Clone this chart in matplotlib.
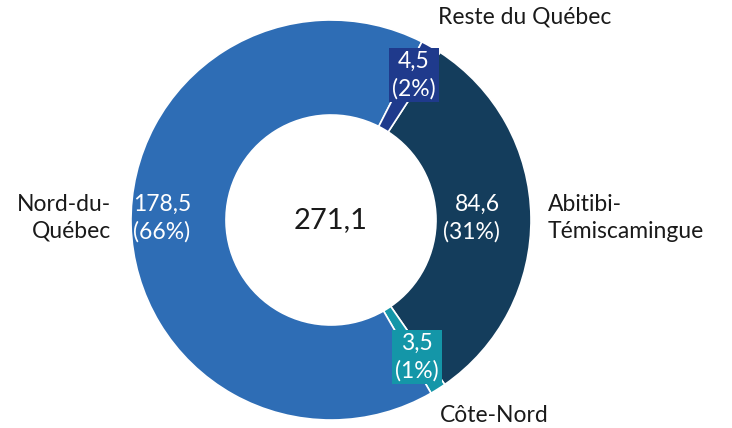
import numpy as np
import matplotlib
matplotlib.use("Agg")
import matplotlib.pyplot as plt

plt.rcParams['font.family'] = ['Lato', 'DejaVu Sans']

regions = ["Abitibi-\nTémiscamingue", "Côte-Nord", "Nord-du-\nQuébec", "Reste du Québec"]
values = [84.6, 3.5, 178.5, 4.5]
colors = ["#143d5c", "#1496a8", "#2e6db5", "#1f3a8c"]

total = sum(values)

fig = plt.figure(figsize=(7.32, 4.28), dpi=100)
ax = fig.add_axes([(331 - 200) / 732, (208 - 200) / 428, 400 / 732, 400 / 428])

wedges, _ = ax.pie(values, colors=colors, startangle=57, counterclock=False, radius=1,
                   wedgeprops=dict(width=0.475, edgecolor='white', linewidth=1.2))
ax.set_xlim(-1, 1)
ax.set_ylim(-1, 1)
ax.set_aspect('equal')
ax.axis('off')

def fmt(v):
    return f"{v:.1f}".replace(".", ",") + f"\n({round(v / total * 100):.0f}%)"

fs = 16.5
ls = 1.35
# value labels inside the ring
ax.text(0.845, 0.01, fmt(values[0]), ha='right', va='center', color='white', fontsize=fs,
        linespacing=ls, multialignment='right')
ax.text(-0.845, 0.01, fmt(values[2]), ha='center', va='center', color='white', fontsize=fs,
        linespacing=ls, multialignment='left')
ax.text(0.415, 0.725, fmt(values[3]), ha='center', va='center', color='white', fontsize=fs,
        linespacing=ls, bbox=dict(boxstyle='square,pad=0.12', fc=colors[3], ec='none'))
ax.text(0.43, -0.685, fmt(values[1]), ha='center', va='center', color='white', fontsize=fs,
        linespacing=ls, bbox=dict(boxstyle='square,pad=0.12', fc=colors[1], ec='none'))

# category labels
ax.text(1.085, 0.01, regions[0], ha='left', va='center', color='#1a1a1a', fontsize=fs,
        linespacing=ls)
ax.text(-1.1, 0.01, regions[2], ha='right', va='center', color='#1a1a1a', fontsize=fs,
        linespacing=ls, multialignment='right')
ax.text(0.97, 1.015, regions[3], ha='center', va='center', color='#1a1a1a', fontsize=fs)
ax.text(0.815, -0.975, regions[1], ha='center', va='center', color='#1a1a1a', fontsize=fs)

ax.text(0, 0, f"{total:.1f}".replace(".", ","), ha='center', va='center', color='#1a1a1a',
        fontsize=21)

fig.savefig("out.png", dpi=100)
